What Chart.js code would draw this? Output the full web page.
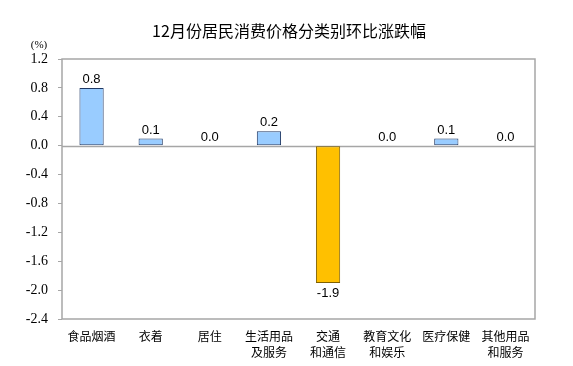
<!DOCTYPE html>
<html lang="zh">
<head>
    <meta charset="UTF-8">
    <title>12月份居民消费价格分类别环比涨跌幅</title>
    <script src="https://cdn.jsdelivr.net/npm/chart.js"></script>
    <style>
        html, body { margin: 0; padding: 0; background: #fff; }
        #wrap { width: 573px; height: 366px; }
    </style>
</head>
<body>
<div id="wrap"><canvas id="cpiChart"></canvas></div>
<script>
    // data
    const categories = [
        ['食品烟酒'], ['衣着'], ['居住'], ['生活用品', '及服务'],
        ['交通', '和通信'], ['教育文化', '和娱乐'], ['医疗保健'], ['其他用品', '和服务']
    ];
    const changes = [0.8, 0.1, 0.0, 0.2, -1.9, 0.0, 0.1, 0.0];
    const yTicks = [1.2, 0.8, 0.4, 0.0, -0.4, -0.8, -1.2, -1.6, -2.0, -2.4];

    const titleText = '12月份居民消费价格分类别环比涨跌幅';
    const unitText = '(%)';
    const cjk = "'Noto Sans CJK SC', 'Noto Sans', sans-serif";

    // frame, zero line, title, unit and value labels
    const decor = {
        id: 'decor',
        beforeDatasetsDraw(chart) {
            const { ctx, chartArea: a, scales } = chart;
            const y0 = Math.round(scales.y.getPixelForValue(0)) + 0.5;
            ctx.save();
            ctx.strokeStyle = '#a6a6a6';
            ctx.lineWidth = 1.5;
            ctx.strokeRect(a.left, a.top, a.right - a.left, a.bottom - a.top);
            ctx.beginPath();
            ctx.moveTo(a.left, y0);
            ctx.lineTo(a.right, y0);
            ctx.stroke();
            ctx.restore();
        },
        afterDraw(chart) {
            const { ctx } = chart;
            ctx.save();
            ctx.fillStyle = '#000';
            ctx.textAlign = 'center';
            ctx.textBaseline = 'middle';
            ctx.font = '16px ' + cjk;
            ctx.fillText(titleText, 289, 31);
            ctx.font = '11px "Liberation Serif", serif';
            ctx.fillText(unitText, 39, 45);

            ctx.font = '13px "Liberation Sans", Arial, sans-serif';
            const meta = chart.getDatasetMeta(0);
            meta.data.forEach((bar, i) => {
                const v = changes[i];
                if (v < 0) {
                    ctx.textBaseline = 'top';
                    ctx.fillText(v.toFixed(1), bar.x, bar.y + 4);
                } else {
                    ctx.textBaseline = 'bottom';
                    ctx.fillText(v.toFixed(1), bar.x, bar.y - 2);
                }
            });
            ctx.restore();
        }
    };

    const ctx = document.getElementById('cpiChart').getContext('2d');
    new Chart(ctx, {
        type: 'bar',
        data: {
            labels: categories,
            datasets: [{
                data: changes,
                backgroundColor: changes.map(v => v < 0 ? '#ffc000' : '#99ccff'),
                borderColor: changes.map(v => v < 0 ? '#7f6000' : '#1f3864'),
                borderWidth: 1,
                borderSkipped: false,
                categoryPercentage: 1,
                barPercentage: 0.41
            }]
        },
        options: {
            responsive: true,
            maintainAspectRatio: false,
            animation: false,
            layout: { padding: { top: 59, right: 38, left: 0, bottom: 0 } },
            plugins: {
                legend: { display: false },
                tooltip: { enabled: false }
            },
            scales: {
                x: {
                    grid: { display: false, drawTicks: false },
                    border: { display: false },
                    afterFit(scale) { scale.height = 47; },
                    ticks: {
                        padding: 9,
                        color: '#000',
                        font: { family: cjk, size: 12, lineHeight: 1.35 },
                        maxRotation: 0,
                        autoSkip: false
                    }
                },
                y: {
                    min: -2.4,
                    max: 1.2,
                    afterFit(scale) { scale.width = 62; },
                    afterBuildTicks(scale) {
                        scale.ticks = yTicks.map(v => ({ value: v }));
                    },
                    grid: {
                        drawOnChartArea: false,
                        drawTicks: true,
                        tickLength: 4,
                        color: '#a6a6a6'
                    },
                    border: { display: false },
                    ticks: {
                        padding: 10,
                        color: '#000',
                        font: { family: '"Liberation Serif", serif', size: 14 },
                        callback: v => Number(v).toFixed(1)
                    }
                }
            }
        },
        plugins: [decor]
    });
</script>
</body>
</html>
